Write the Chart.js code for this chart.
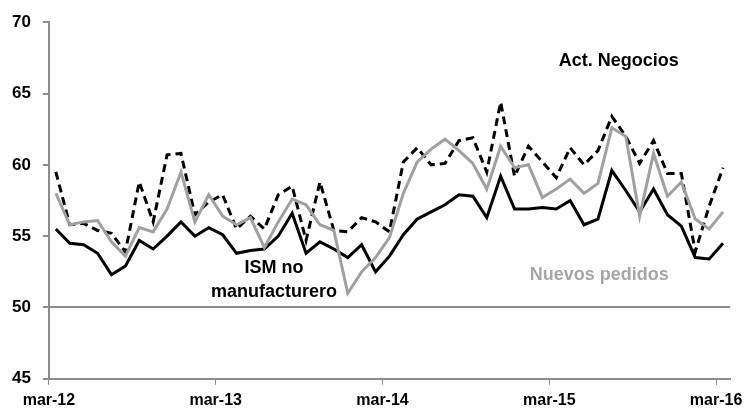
<!DOCTYPE html>
<html>
<head>
<meta charset="utf-8">
<script src="https://cdn.jsdelivr.net/npm/chart.js@4.4.1/dist/chart.umd.min.js"></script>
<style>
  html, body { margin: 0; padding: 0; background: #fff; }
  #wrap { position: relative; width: 753px; height: 416px; }
</style>
</head>
<body>
<div id="wrap"><canvas id="chart"></canvas></div>
<script>
// Monthly data, mar-12 .. mar-16 (49 months)
const tickLabels = ['mar-12', 'mar-13', 'mar-14', 'mar-15', 'mar-16'];
const tickMonths = [0, 12, 24, 36, 48];

const ismNoManuf = [55.5, 54.5, 54.4, 53.8, 52.3, 52.9, 54.7, 54.1, 55.0, 56.0,
                    55.0, 55.6, 55.1, 53.8, 54.0, 54.1, 55.0, 56.6, 53.8, 54.6,
                    54.1, 53.5, 54.4, 52.5, 53.6, 55.1, 56.2, 56.7, 57.2, 57.9,
                    57.8, 56.3, 59.2, 56.9, 56.9, 57.0, 56.9, 57.5, 55.8, 56.2,
                    59.6, 58.2, 56.7, 58.3, 56.5, 55.7, 53.5, 53.4, 54.5];

const actNegocios = [59.5, 55.8, 55.9, 55.4, 55.2, 53.9, 58.8, 56.0, 60.7, 60.8,
                     56.5, 57.4, 57.9, 55.5, 56.4, 55.5, 57.9, 58.5, 54.7, 58.8,
                     55.4, 55.3, 56.3, 56.0, 55.3, 60.2, 61.2, 60.0, 60.1, 61.7,
                     61.9, 59.5, 64.4, 59.2, 61.3, 60.2, 59.1, 61.2, 60.0, 61.0,
                     63.4, 62.0, 60.1, 61.7, 59.4, 59.4, 53.9, 57.1, 59.8];

const nuevosPedidos = [58.0, 55.8, 56.0, 56.1, 54.6, 53.6, 55.6, 55.3, 56.9, 59.5,
                       56.0, 57.9, 56.4, 55.8, 56.3, 54.2, 56.0, 57.6, 57.2, 55.8,
                       55.4, 51.0, 52.5, 53.5, 54.9, 58.0, 60.2, 61.1, 61.8, 61.0,
                       60.1, 58.3, 61.3, 59.8, 60.0, 57.7, 58.3, 59.0, 58.0, 58.7,
                       62.6, 62.0, 56.4, 60.8, 57.8, 58.8, 56.2, 55.5, 56.7];

const yTicks = [45, 50, 55, 60, 65, 70];

// points sit in the middle of each month
const toPoints = arr => arr.map((v, i) => ({ x: i + 0.5, y: v }));

const FONT = "'Liberation Sans', Arial, sans-serif";
const AXIS_GREY = '#8c8c8c';

// text labels, anchored at their baseline in data coordinates
const notes = [
    { text: 'Act. Negocios', x: 41.0, y: 66.9, color: '#000' },
    { text: 'ISM no', x: 16.2, y: 52.4, color: '#000' },
    { text: 'manufacturero', x: 16.2, y: 50.75, color: '#000' },
    { text: 'Nuevos pedidos', x: 39.6, y: 51.9, color: '#a6a6a6' }
];

const notesPlugin = {
    id: 'notes',
    afterDatasetsDraw(chart) {
        const { ctx, scales } = chart;
        ctx.save();
        ctx.font = 'bold 18px ' + FONT;
        ctx.textAlign = 'center';
        ctx.textBaseline = 'alphabetic';
        notes.forEach(n => {
            ctx.fillStyle = n.color;
            ctx.fillText(n.text, scales.x.getPixelForValue(n.x), scales.y.getPixelForValue(n.y));
        });
        ctx.restore();
    }
};

new Chart(document.getElementById('chart').getContext('2d'), {
    type: 'line',
    data: {
        datasets: [
            {
                label: 'Nuevos pedidos',
                data: toPoints(nuevosPedidos),
                borderColor: '#a0a0a0',
                borderWidth: 3,
                pointRadius: 0,
                tension: 0
            },
            {
                label: 'Act. Negocios',
                data: toPoints(actNegocios),
                borderColor: '#000',
                borderWidth: 3,
                borderDash: [8, 5],
                pointRadius: 0,
                tension: 0
            },
            {
                label: 'ISM no manufacturero',
                data: toPoints(ismNoManuf),
                borderColor: '#000',
                borderWidth: 3,
                pointRadius: 0,
                tension: 0
            }
        ]
    },
    options: {
        responsive: true,
        maintainAspectRatio: false,
        animation: false,
        layout: { padding: { top: 0, right: 23, left: 0, bottom: 0 } },
        plugins: {
            legend: { display: false },
            tooltip: { enabled: false }
        },
        scales: {
            x: {
                type: 'linear',
                min: 0,
                max: 49,
                afterBuildTicks: axis => { axis.ticks = tickMonths.map(v => ({ value: v })); },
                ticks: {
                    autoSkip: false,
                    maxRotation: 0,
                    padding: 6,
                    color: '#000',
                    font: { family: FONT, size: 16, weight: 'bold' },
                    callback: v => tickLabels[tickMonths.indexOf(v)]
                },
                grid: {
                    drawOnChartArea: false,
                    tickLength: 6,
                    tickColor: AXIS_GREY
                },
                border: { color: AXIS_GREY, width: 2 }
            },
            y: {
                min: 45,
                max: 70,
                afterBuildTicks: axis => { axis.ticks = yTicks.map(v => ({ value: v })); },
                ticks: {
                    padding: 12,
                    color: '#000',
                    font: { family: FONT, size: 17, weight: 'bold' }
                },
                grid: {
                    color: c => (c.tick && c.tick.value === 50 ? AXIS_GREY : 'rgba(0,0,0,0)'),
                    lineWidth: 2,
                    tickLength: 6,
                    tickColor: AXIS_GREY
                },
                border: { color: AXIS_GREY, width: 2 }
            }
        }
    },
    plugins: [notesPlugin]
});
</script>
</body>
</html>
